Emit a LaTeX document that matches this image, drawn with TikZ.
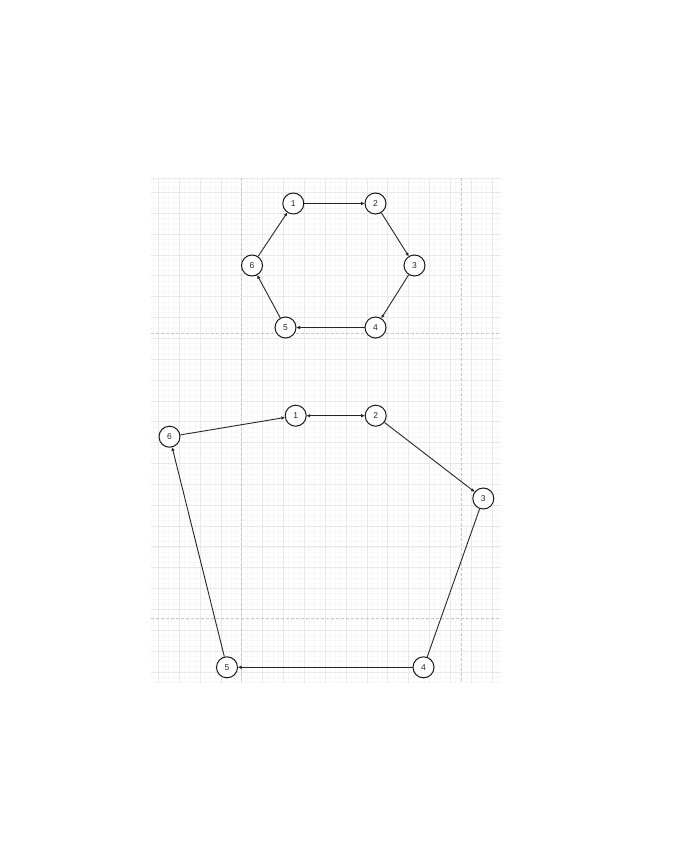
\documentclass[tikz,border=0pt]{standalone}
\usepackage{fontspec}
\setmainfont{Liberation Sans}
\usetikzlibrary{arrows.meta}
\begin{document}
\begin{tikzpicture}[x=1pt,y=-1pt,
 vert/.style={circle,draw=black!90,fill=white,line width=1pt,minimum size=21pt,inner sep=0pt,font=\fontsize{8.5}{9}\selectfont,text=black!85},
 edge/.style={draw=black!85,line width=0.9pt,-{Triangle[length=3.5pt,width=3pt]}},
 plainedge/.style={draw=black!85,line width=0.9pt},
 minorgrid/.style={draw=black!3,line width=0.5pt},
 majorgrid/.style={draw=black!9,line width=0.6pt},
 pagebreak/.style={draw=black!22,line width=0.6pt,dash pattern=on 3pt off 2pt}]
\useasboundingbox (0,0) rectangle (699,851);
\begin{scope}
\clip (151,178) rectangle (501,683);
\foreach \i in {-2,...,68} { \draw[minorgrid] ({158.3+\i*5.2125},178) -- ++(0,505); }
\foreach \i in {-3,...,98} { \draw[minorgrid] (151,{192.3+\i*5.2125}) -- ++(350,0); }
\foreach \i in {-1,...,17} { \draw[majorgrid] ({158.3+\i*20.85},178) -- ++(0,505); }
\foreach \i in {-1,...,25} { \draw[majorgrid] (151,{192.3+\i*20.85}) -- ++(350,0); }
\end{scope}
\draw[majorgrid] (151,178.3) -- (501,178.3);
\draw[pagebreak] (241.5,178) -- (241.5,683);
\draw[pagebreak] (461,178) -- (461,683);
\draw[pagebreak] (151,333) -- (501,333);
\draw[pagebreak] (151,618) -- (501,618);

% top hexagon
\node[vert] (t1) at (293.3,203.5) {1};
\node[vert] (t2) at (375.5,203.5) {2};
\node[vert] (t3) at (414.5,265.5) {3};
\node[vert] (t4) at (375.5,327.5) {4};
\node[vert] (t5) at (285.5,327.5) {5};
\node[vert] (t6) at (252,265.5) {6};
\draw[edge] (t1) -- (t2);
\draw[edge] (t2) -- (t3);
\draw[edge] (t3) -- (t4);
\draw[edge] (t4) -- (t5);
\draw[edge] (t5) -- (t6);
\draw[edge] (t6) -- (t1);

% bottom polygon
\node[vert] (b1) at (295.7,415.7) {1};
\node[vert] (b2) at (375.7,415.7) {2};
\node[vert] (b3) at (483.3,498.5) {3};
\node[vert] (b4) at (423.5,667.3) {4};
\node[vert] (b5) at (227,667.3) {5};
\node[vert] (b6) at (169.5,436.7) {6};
\draw[edge,{Triangle[length=3.5pt,width=3pt]}-{Triangle[length=3.5pt,width=3pt]}] (b1) -- (b2);
\draw[edge] (b2) -- (b3);
\draw[plainedge] (b3) -- (b4);
\draw[edge] (b4) -- (b5);
\draw[edge] (b5) -- (b6);
\draw[edge] (b6) -- (b1);
\end{tikzpicture}
\end{document}
